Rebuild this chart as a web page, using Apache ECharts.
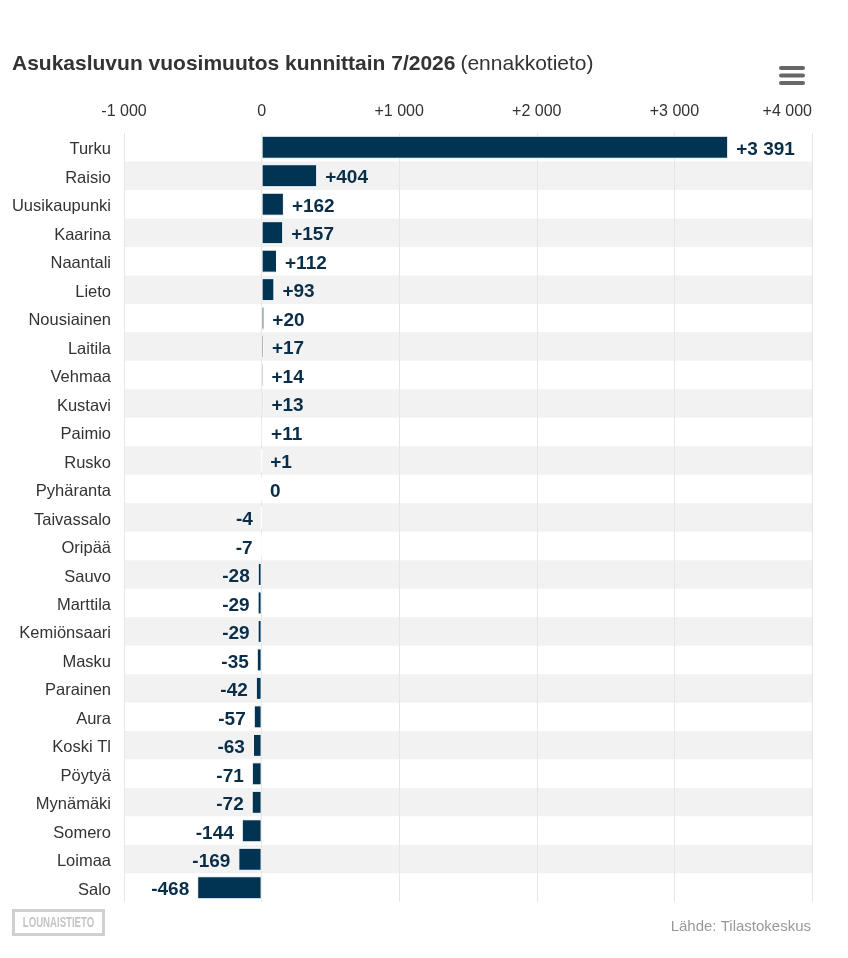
<!DOCTYPE html>
<html>
<head>
<meta charset="utf-8">
<script src="https://cdn.jsdelivr.net/npm/echarts@6/dist/echarts.min.js"></script>
<style>
  html, body { margin: 0; padding: 0; background: #fff; }
  #chart { width: 848px; height: 958px; }
</style>
</head>
<body>
<div id="chart"></div>
<script>
const municipalities = ['Turku', 'Raisio', 'Uusikaupunki', 'Kaarina', 'Naantali', 'Lieto', 'Nousiainen',
  'Laitila', 'Vehmaa', 'Kustavi', 'Paimio', 'Rusko', 'Pyhäranta', 'Taivassalo', 'Oripää', 'Sauvo',
  'Marttila', 'Kemiönsaari', 'Masku', 'Parainen', 'Aura', 'Koski Tl', 'Pöytyä', 'Mynämäki',
  'Somero', 'Loimaa', 'Salo'];
const change = [3391, 404, 162, 157, 112, 93, 20, 17, 14, 13, 11, 1, 0, -4, -7, -28, -29, -29,
  -35, -42, -57, -63, -71, -72, -144, -169, -468];
const axisTicks = [-1000, 0, 1000, 2000, 3000, 4000];

const font = "'Liberation Sans', Arial, sans-serif";

function fmt(v) {
  const s = Math.abs(v).toString().replace(/\B(?=(\d{3})+(?!\d))/g, ' ');
  if (v > 0) return '+' + s;
  if (v < 0) return '-' + s;
  return '0';
}

const chart = echarts.init(document.getElementById('chart'));

const option = {
  animation: false,
  backgroundColor: '#fff',
  textStyle: { fontFamily: font },
  title: {
    text: '{b|Asukasluvun vuosimuutos kunnittain 7/2026} {n|(ennakkotieto)}',
    left: 12,
    top: 54,
    padding: 0,
    textStyle: {
      fontWeight: 'normal',
      rich: {
        b: { fontSize: 21, fontWeight: 'bold', color: '#333', fontFamily: font },
        n: { fontSize: 21, fontWeight: 'normal', color: '#333', fontFamily: font }
      }
    }
  },
  grid: { left: 124, right: 36, top: 133, bottom: 56, containLabel: false },
  xAxis: {
    type: 'value',
    position: 'top',
    min: axisTicks[0],
    max: axisTicks[axisTicks.length - 1],
    interval: 1000,
    axisLine: { show: false },
    axisTick: { show: false },
    splitLine: { show: true, lineStyle: { color: '#e6e6e6', width: 1 } },
    axisLabel: {
      margin: 13,
      fontSize: 16,
      color: '#333',
      fontFamily: font,
      alignMaxLabel: 'right',
      formatter: v => fmt(v)
    }
  },
  yAxis: {
    type: 'category',
    data: municipalities,
    inverse: true,
    axisLine: { show: false },
    axisTick: { show: false },
    splitLine: { show: false },
    splitArea: { show: true, areaStyle: { color: ['#ffffff', '#f2f2f2'] } },
    axisLabel: {
      margin: 13,
      formatter: v => '{c|' + v + '}',
      rich: {
        c: { fontSize: 16.5, color: '#333', fontFamily: font, padding: [5, 0, 0, 0] }
      }
    }
  },
  series: [{
    type: 'bar',
    barWidth: 23,
    data: change.map(v => ({
      value: v,
      label: { position: v < 0 ? 'left' : 'right' }
    })),
    itemStyle: { color: '#003452', borderColor: '#ffffff', borderWidth: 1 },
    label: {
      show: true,
      distance: 8,
      offset: [0, 2.5],
      fontSize: 19,
      fontWeight: 'bold',
      color: '#0a2e48',
      fontFamily: font,
      formatter: p => fmt(p.value)
    }
  }],
  graphic: [
    { type: 'rect', shape: { x: 779, y: 66, width: 26, height: 4, r: 2 }, style: { fill: '#666' } },
    { type: 'rect', shape: { x: 779, y: 73.5, width: 26, height: 4, r: 2 }, style: { fill: '#666' } },
    { type: 'rect', shape: { x: 779, y: 81, width: 26, height: 4, r: 2 }, style: { fill: '#666' } },
    {
      type: 'rect',
      shape: { x: 13.5, y: 910.5, width: 90, height: 24 },
      style: { fill: 'none', stroke: '#d0d0d0', lineWidth: 3 }
    },
    {
      type: 'text',
      x: 58.5, y: 923,
      scaleX: 0.64,
      style: {
        text: 'LOUNAISTIETO',
        fill: '#c4c4c4',
        fontSize: 15,
        fontWeight: 'bold',
        fontFamily: font,
        align: 'center',
        verticalAlign: 'middle'
      }
    },
    {
      type: 'text',
      x: 811, y: 927,
      style: {
        text: 'Lähde: Tilastokeskus',
        fill: '#999',
        fontSize: 15,
        fontFamily: font,
        align: 'right',
        verticalAlign: 'middle'
      }
    }
  ]
};

chart.setOption(option);
</script>
</body>
</html>
